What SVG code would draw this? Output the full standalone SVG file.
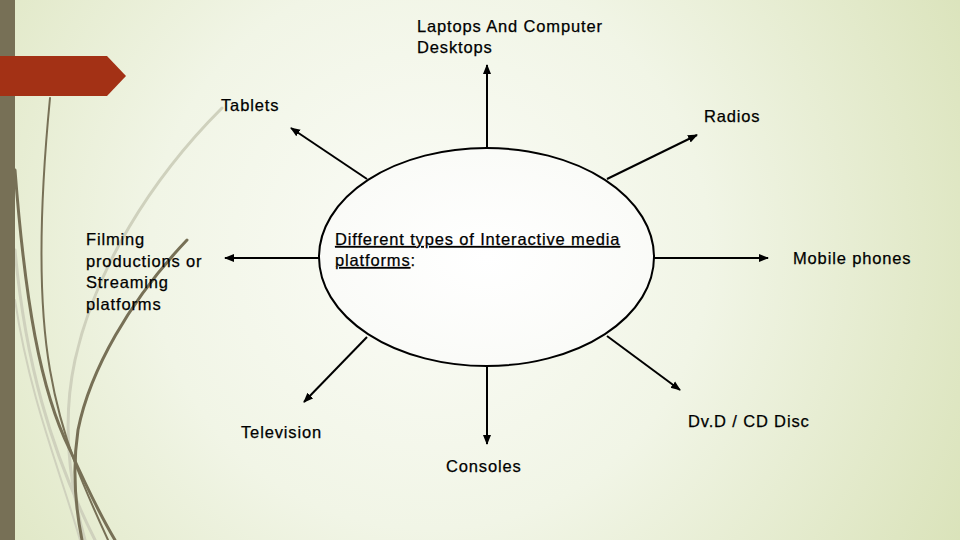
<svg xmlns="http://www.w3.org/2000/svg" width="960" height="540" viewBox="0 0 960 540">
<defs>
<radialGradient id="bg" cx="430" cy="250" r="620" gradientUnits="userSpaceOnUse">
<stop offset="0" stop-color="#fbfcf7"/>
<stop offset="0.45" stop-color="#f1f5e6"/>
<stop offset="1" stop-color="#d9e2b8"/>
</radialGradient>
<radialGradient id="ell" cx="0.5" cy="0.5" r="0.6">
<stop offset="0" stop-color="#ffffff"/>
<stop offset="1" stop-color="#f9faf6"/>
</radialGradient>
<marker id="ah" viewBox="0 0 10 10" refX="9" refY="5" markerWidth="10" markerHeight="10" markerUnits="userSpaceOnUse" orient="auto">
<path d="M0,1 L10,5 L0,9 Z" fill="#000"/>
</marker>
<style>
.t{font-family:"Liberation Sans",Arial,sans-serif;font-size:16.5px;letter-spacing:0.85px;fill:#000;stroke:#000;stroke-width:0.25}
.c{stroke:#000;stroke-width:2;fill:none;marker-end:url(#ah)}
.g{fill:none;stroke:#777056;stroke-linecap:round}
.gl{fill:none;stroke:#cfd1bd;stroke-linecap:round}
</style>
</defs>
<rect width="960" height="540" fill="url(#bg)"/>
<g id="decor">
<path class="gl" stroke-width="3" d="M222,108 C150,180 95,270 75,360 C62,420 68,480 85,540"/>
<path class="gl" stroke-width="3" d="M15,250 C25,360 50,450 95,540"/>
<path class="gl" stroke-width="2" d="M15,300 C30,400 60,470 80,540"/>
<path class="g" stroke-width="2" d="M50,98 C42,180 36,290 50,370 C62,440 85,490 108,540"/>
<path class="g" stroke-width="3" d="M15,170 C25,300 40,390 70,450 C88,490 100,515 115,540"/>
<path class="g" stroke-width="3" d="M187,240 C130,300 90,370 78,430 C72,470 76,510 82,540"/>
<rect x="0" y="0" width="15" height="540" fill="#777056"/>
<path d="M0,56 L107,56 L126,76 L107,96 L0,96 Z" fill="#a33115"/>
</g>
<g id="connectors">
<line class="c" x1="487" y1="148" x2="487" y2="65"/>
<line class="c" x1="367" y1="179" x2="291" y2="128"/>
<line class="c" x1="607" y1="179" x2="697" y2="135"/>
<line class="c" x1="320" y1="258" x2="225" y2="258"/>
<line class="c" x1="654" y1="258" x2="768" y2="258"/>
<line class="c" x1="367" y1="337" x2="304" y2="402"/>
<line class="c" x1="607" y1="336" x2="680" y2="390"/>
<line class="c" x1="487" y1="366" x2="487" y2="444"/>
</g>
<g id="center">
<ellipse cx="486.5" cy="257" rx="167.5" ry="109" fill="url(#ell)" stroke="#000" stroke-width="2"/>
<text class="t" x="335" y="245"><tspan text-decoration="underline">Different types of Interactive media</tspan></text>
<text class="t" x="335" y="266"><tspan text-decoration="underline">platforms</tspan>:</text>
</g>
<g id="laptops"><text class="t" x="417" y="32">Laptops And Computer</text><text class="t" x="417" y="53">Desktops</text></g>
<g id="tablets"><text class="t" x="221" y="111">Tablets</text></g>
<g id="radios"><text class="t" x="704" y="122">Radios</text></g>
<g id="filming"><text class="t" x="86" y="245">Filming</text><text class="t" x="86" y="267">productions or</text><text class="t" x="86" y="288">Streaming</text><text class="t" x="86" y="310">platforms</text></g>
<g id="mobile"><text class="t" x="793" y="264">Mobile phones</text></g>
<g id="television"><text class="t" x="241" y="438">Television</text></g>
<g id="dvd"><text class="t" x="688" y="427">Dv.D / CD Disc</text></g>
<g id="consoles"><text class="t" x="446" y="472">Consoles</text></g>
</svg>
